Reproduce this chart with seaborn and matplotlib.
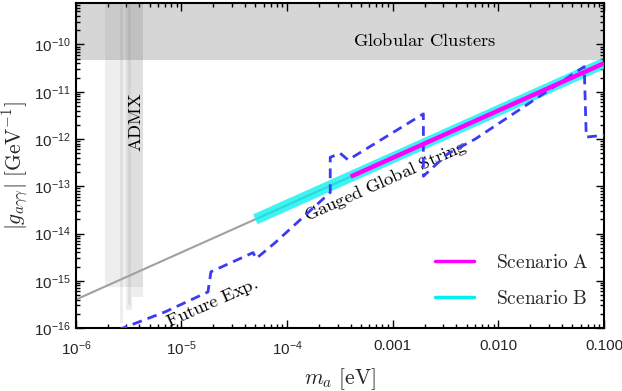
import matplotlib
matplotlib.use("Agg")
import matplotlib.pyplot as plt
import seaborn as sns
from matplotlib.lines import Line2D
from matplotlib.ticker import LogLocator, FixedLocator, FixedFormatter, NullFormatter

# axion mass [eV] and photon coupling [GeV^-1]
string_m = [1e-6, 5e-5, 4e-4, 0.1]
string_g = [4.0e-16, 2.0e-14, 1.6e-13, 4.0e-11]

scen_a_m = [4e-4, 0.1]
scen_a_g = [1.6e-13, 4.0e-11]
scen_b_m = [5e-5, 0.1]
scen_b_g = [2.0e-14, 4.0e-11]

future_m = [2.5e-6, 7.0e-6, 1.78e-5, 1.9e-5, 4.77e-5, 5.08e-5, 7.7e-5, 1.11e-4,
            2.56e-4, 2.56e-4, 3.18e-4, 3.78e-4, 1.95e-3, 1.95e-3, 3.29e-3,
            6.05e-3, 2.5e-2, 6.5e-2, 6.8e-2, 0.1]
future_g = [9.1e-17, 2.2e-16, 5.8e-16, 1.55e-15, 3.95e-15, 2.94e-15, 6.4e-15, 1.35e-14,
            7.4e-14, 4.1e-13, 5.0e-13, 3.6e-13, 3.4e-12, 1.63e-13, 4.8e-13,
            1.0e-12, 8.2e-12, 3.4e-11, 1.1e-12, 1.2e-12]

gc_limit = 4.7e-11

admx_lo = [1.88e-6, 2.61e-6, 2.95e-6, 3.1e-6, 3.4e-6]
admx_hi = [4.31e-6, 2.79e-6, 3.40e-6, 3.3e-6, 4.31e-6]
admx_floor = [7.4e-16, 1.3e-16, 2.4e-16, 3.0e-16, 4.6e-16]

xtick_vals = [1e-6, 1e-5, 1e-4, 1e-3, 1e-2, 1e-1]
xtick_labels = ["$10^{-6}$", "$10^{-5}$", "$10^{-4}$", "0.001", "0.010", "0.100"]
ytick_vals = [1e-16, 1e-15, 1e-14, 1e-13, 1e-12, 1e-11, 1e-10]
ytick_labels = ["$10^{-16}$", "$10^{-15}$", "$10^{-14}$", "$10^{-13}$",
                "$10^{-12}$", "$10^{-11}$", "$10^{-10}$"]

xmin, xmax = 1e-6, 0.1
ymin, ymax = 1e-16, 7.5e-10

# Styling
sns.set_style("ticks")
plt.rcParams["font.family"] = ["Liberation Sans", "DejaVu Sans"]
plt.rcParams["mathtext.fontset"] = "custom"
plt.rcParams["mathtext.rm"] = "Liberation Sans"
plt.rcParams["mathtext.it"] = "Liberation Sans:italic"
plt.rcParams["mathtext.bf"] = "Liberation Sans:bold"

fig = plt.figure(figsize=(6.22, 3.91), dpi=100)
ax = fig.add_axes([0.122, 0.161, 0.849, 0.831])
ax.set_xscale("log")
ax.set_yscale("log")

# excluded regions
ax.fill_between([xmin, xmax], gc_limit, ymax, color="#d6d6d6", lw=0, zorder=0)
for lo, hi, fl in zip(admx_lo, admx_hi, admx_floor):
    ax.fill_between([lo, hi], fl, ymax, color="gray", alpha=0.13, lw=0, zorder=1)

# lines
sns.lineplot(x=string_m, y=string_g, ax=ax, color="#a0a0a0", lw=1.5, zorder=2)
sns.lineplot(x=scen_b_m, y=scen_b_g, ax=ax, color="#00f0f0", lw=7.8, alpha=0.75,
             solid_capstyle="butt", zorder=3)
sns.lineplot(x=future_m, y=future_g, ax=ax, sort=False, estimator=None,
             color="#3b3bf5", lw=2.0, zorder=4).lines[-1].set_dashes((3.5, 2.2))
sns.lineplot(x=scen_a_m, y=scen_a_g, ax=ax, color="#ff00ff", lw=3.2,
             solid_capstyle="butt", zorder=5)

ax.set_xlim(xmin, xmax)
ax.set_ylim(ymin, ymax)

# labels on the plot
cm = dict(math_fontfamily="cm", fontsize=13.3, color="black")
ax.text(2.03e-3, 1.16e-10, r"$\mathrm{Globular\ Clusters}$", ha="center", va="center", **cm)
ax.text(3.79e-6, 2.3e-12, r"$\mathrm{ADMX}$", ha="center", va="center", rotation=90, **cm)
ax.text(8.67e-4, 1.3e-13, r"$\mathrm{Gauged\ Global\ String}$", ha="center", va="center",
        rotation=24, rotation_mode="anchor", **cm)
ax.text(1.95e-5, 3.4e-16, r"$\mathrm{Future\ Exp.}$", ha="center", va="center",
        rotation=24, rotation_mode="anchor", **cm)

ax.set_xlabel(r"$m_a\ [\mathrm{eV}]$", fontsize=15.5, math_fontfamily="cm", labelpad=6)
ax.set_ylabel(r"$|g_{a\gamma\gamma}|\ [\mathrm{GeV}^{-1}]$", fontsize=15.5,
              math_fontfamily="cm", labelpad=2)

# ticks
ax.xaxis.set_major_locator(FixedLocator(xtick_vals))
ax.xaxis.set_major_formatter(FixedFormatter(xtick_labels))
ax.yaxis.set_major_locator(FixedLocator(ytick_vals))
ax.yaxis.set_major_formatter(FixedFormatter(ytick_labels))
ax.xaxis.set_minor_locator(LogLocator(base=10, subs=range(2, 10), numticks=20))
ax.yaxis.set_minor_locator(LogLocator(base=10, subs=range(2, 10), numticks=20))
ax.xaxis.set_minor_formatter(NullFormatter())
ax.yaxis.set_minor_formatter(NullFormatter())
ax.tick_params(which="both", direction="in", top=True, right=True, labelsize=11,
               color="black", width=1.0)
ax.tick_params(axis="x", which="major", pad=8)
ax.tick_params(which="major", length=6)
ax.tick_params(which="minor", length=3)
for s in ax.spines.values():
    s.set_linewidth(1.5)
    s.set_color("black")

# legend
handles = [Line2D([], [], color="#ff00ff", lw=2.5), Line2D([], [], color="#00f0f0", lw=2.5)]
leg = ax.legend(handles, ["Scenario A", "Scenario B"], loc="lower right",
                bbox_to_anchor=(1.004, 0.007), frameon=False, fontsize=14,
                handlelength=2.0, handletextpad=1.1, labelspacing=0.95)
for t in leg.get_texts():
    t.set_text(r"$\mathrm{" + t.get_text().replace(" ", r"\ ") + "}$")
    t.set_math_fontfamily("cm")

fig.savefig("out.png", dpi=100)
